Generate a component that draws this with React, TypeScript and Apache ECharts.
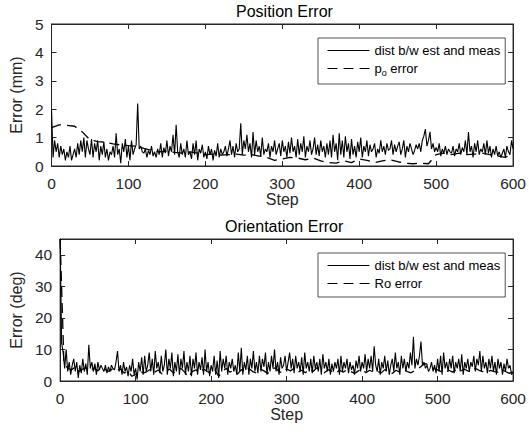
import React, { useEffect, useRef } from "react";
import * as echarts from "echarts";

// ---------- data ----------
const STEP_MIN = 0;
const STEP_MAX = 600;
const STEP_INTERVAL = 100;
const DIST_STEP = 2; // sampling of the "dist b/w est and meas" series
const POS_ERR_STEP = 10; // sampling of p_o error
const ORI_ERR_STEP = 5; // sampling of Ro error

const titles = ["Position Error", "Orientation Error"];
const yNames = ["Error (mm)", "Error (deg)"];
const yMax = [5, 45];
const yInterval = [1, 10];
const legendNames = ["dist b/w est and meas", "p_o error", "Ro error"];

// Position: distance between estimate and measurement (mm), every 2 steps
const positionDist = [
  2.0, 0.3, 0.9, 0.5, 0.8, 0.3, 0.7, 0.4, 0.6, 0.2,
  0.5, 0.3, 0.7, 0.2, 0.4, 0.6, 0.3, 0.8, 0.4, 0.9,
  0.5, 1.0, 0.3, 0.9, 0.6, 0.4, 0.95, 0.3, 0.8, 0.5,
  0.9, 0.2, 0.7, 0.4, 0.85, 0.3, 0.6, 0.2, 0.5, 0.4,
  0.7, 0.3, 1.15, 0.4, 0.6, 0.1, 0.8, 0.5, 0.95, 0.3,
  0.7, 0.2, 0.9, 0.4, 0.6, 0.75, 2.2, 0.6, 0.7, 0.5,
  0.45, 0.6, 0.3, 0.55, 0.4, 0.7, 0.35, 0.5, 0.3, 0.6,
  0.4, 0.8, 0.3, 0.65, 0.45, 0.9, 0.35, 0.7, 0.5, 1.1,
  0.4, 1.45, 0.5, 0.3, 0.8, 0.4, 0.6, 0.3, 0.9, 0.4,
  0.5, 0.25, 0.8, 0.4, 0.9, 0.2, 0.6, 0.45, 0.75, 0.3,
  0.5, 0.25, 0.7, 0.4, 0.6, 0.2, 0.55, 0.35, 0.8, 0.3,
  0.6, 0.4, 0.5, 0.7, 0.35, 0.6, 0.9, 0.4, 0.7, 0.3,
  0.8, 0.5, 0.6, 1.5, 0.4, 0.9, 0.6, 1.1, 0.5, 0.8,
  0.3, 1.2, 0.4, 0.9, 0.5, 0.7, 0.35, 1.0, 0.4, 0.6,
  0.5, 0.8, 0.3, 0.7, 0.5, 0.9, 0.4, 0.6, 0.8, 0.35,
  0.9, 0.5, 0.7, 0.3, 0.85, 0.45, 1.0, 0.5, 0.7, 0.3,
  0.95, 0.4, 0.8, 0.5, 1.05, 0.3, 0.7, 0.5, 0.9, 0.4,
  0.6, 1.0, 0.4, 0.75, 0.35, 0.9, 0.5, 0.7, 0.3, 0.8,
  0.4, 0.9, 0.3, 1.1, 0.5, 0.8, 0.2, 1.15, 0.4, 0.9,
  0.3, 1.05, 0.5, 0.8, 0.25, 0.95, 0.4, 0.7, 0.3, 0.85,
  0.5, 1.0, 0.3, 0.7, 0.5, 0.9, 0.35, 0.75, 0.5, 0.6,
  0.8, 0.3, 0.6, 0.45, 0.9, 0.5, 0.7, 0.4, 0.8, 0.55,
  0.6, 0.9, 0.4, 0.75, 0.5, 0.7, 0.85, 0.4, 0.6, 0.9,
  0.3, 0.7, 0.5, 0.8, 0.6, 0.4, 0.55, 0.75, 0.6, 0.8,
  0.5, 0.9, 1.05, 1.3, 0.7, 0.9, 1.2, 0.6, 0.8, 0.5,
  0.65, 0.5, 0.8, 0.35, 0.6, 0.45, 0.7, 0.4, 0.6, 0.5,
  0.45, 0.7, 0.35, 0.6, 0.5, 0.8, 0.4, 0.65, 0.5, 0.9,
  0.4, 1.2, 0.5, 0.7, 0.3, 0.8, 0.5, 0.9, 0.4, 0.6,
  0.5, 0.8, 0.4, 0.9, 0.45, 0.7, 0.3, 0.6, 0.4, 0.7,
  0.35, 0.5, 0.3, 0.45, 0.6, 0.3, 0.7, 0.5, 0.4, 0.9,
  0.6,
];

// Position: p_o error (mm), every 10 steps
const positionErr = [
  1.35, 1.45, 1.43, 1.4, 1.2, 0.92, 0.86, 0.84, 0.78, 0.74,
  0.72, 0.7, 0.62, 0.55, 0.5, 0.52, 0.48, 0.45, 0.5, 0.45,
  0.4, 0.42, 0.38, 0.4, 0.42, 0.38, 0.4, 0.35, 0.3, 0.2,
  0.25, 0.3, 0.28, 0.22, 0.28, 0.18, 0.12, 0.1, 0.18, 0.12,
  0.25, 0.2, 0.12, 0.18, 0.22, 0.15, 0.1, 0.08, 0.1, 0.08,
  0.4, 0.45, 0.4, 0.45, 0.4, 0.42, 0.45, 0.4, 0.35, 0.3,
  0.45,
];

// Orientation: distance between estimate and measurement (deg), every 2 steps
const orientationDist = [
  45, 12, 9, 4, 10, 3, 6, 2, 5, 7,
  3, 6, 1, 5, 2.5, 7, 3, 5.5, 2, 11.5,
  4, 6, 3, 5.5, 2, 6, 3.5, 5, 4, 3,
  5, 2.5, 4.5, 3, 5, 4, 3.5, 6, 9.5, 3,
  5, 2, 6, 3, 4.5, 1.5, 5, 3, 7, 2,
  4, 0.5, 6, 3, 7.5, 2, 8, 3, 5, 9,
  3, 7, 2, 9.5, 4, 6, 2.5, 8, 3, 5,
  10, 2, 7, 4, 9, 1.5, 6, 3, 8.5, 2,
  7, 4, 9.5, 2, 6, 3, 8, 1.5, 7, 4,
  9, 2, 6, 3.5, 7.5, 2, 10, 3, 6, 1.5,
  5, 3, 8, 2, 6.5, 1, 9.5, 3, 7, 4,
  8, 2, 6, 4, 7, 3, 5, 2, 9, 3,
  10.5, 2, 6, 3.5, 8, 2, 7, 4, 9.5, 3,
  6, 2.5, 8, 3, 7, 4.5, 9, 2, 6, 3,
  8, 4, 10, 3, 6, 2, 7.5, 4, 5, 8,
  3, 6, 9, 4, 7, 2.5, 8, 4, 6, 3,
  7.5, 2, 9, 4, 6, 3, 7, 2.5, 8, 4,
  6, 3, 7, 2, 8.5, 4, 6, 3, 7, 2,
  5.5, 3, 6, 4, 7, 2, 8, 3, 6, 4,
  7, 2.5, 6, 3.5, 5, 2, 6.5, 4, 8, 3,
  6, 4, 8.5, 3, 7, 4, 8, 3, 11, 5,
  3, 7, 2, 6, 4, 8, 3, 6.5, 2, 5,
  7, 3, 9, 4, 6, 2, 8, 4, 7, 3,
  6, 4, 9, 5, 14, 4, 7, 5, 8, 12.5,
  5, 6, 4, 5, 3, 4, 6, 3, 5, 2.5,
  7, 3, 8, 2, 9, 4, 6, 3, 7, 4,
  8, 2.5, 6, 4, 7, 3, 8.5, 2, 6, 4,
  7, 3, 6, 4.5, 8, 3, 7, 5, 9.5, 3,
  8, 4, 6, 2.5, 7, 4, 8, 3, 6, 2,
  7, 4, 6, 2, 5.5, 3, 7, 4, 5, 2,
  3,
];

// Orientation: Ro error (deg), every 5 steps
const orientationErr = [
  45, 6, 4, 3.5, 4.5, 3, 3.8, 4.2, 3.5, 4,
  3.2, 4.5, 3.6, 3, 4, 3.4, 3.8, 2.5, 3.2, 1.5,
  2, 3.5, 2.5, 3, 3.8, 2.8, 3.5, 2.2, 3, 3.8,
  2.5, 3.2, 4, 2.8, 1.2, 3, 3.5, 2.6, 3.8, 3,
  2.4, 3.6, 1.5, 3, 4, 2.8, 3.4, 2.2, 3.6, 2.8,
  4, 3, 2.5, 3.8, 3.2, 2.4, 3.6, 4.2, 3, 2.5,
  3.8, 3.2, 4, 2.8, 3.4, 2.6, 3.8, 3, 4.2, 3.2,
  2.6, 3.6, 3, 2.4, 3.4, 2.8, 3.6, 3, 2.4, 3.2,
  3.8, 2.6, 3.4, 2.8, 3.2, 2.5, 3.6, 3, 2.4, 3.4,
  2.8, 3.6, 3, 2.6, 3.4, 4, 5, 5.5, 4.5, 4,
  3.5, 3, 2.6, 3.4, 2.8, 3.6, 3, 3.8, 3.2, 2.8,
  4, 3.4, 3, 2.6, 3.4, 3, 2.8, 3.6, 3, 2.4,
  3,
];

// ---------- styling ----------
const FONT = "'Liberation Sans', Arial, Helvetica, sans-serif";
const AXIS = "#262626";
const GRID_LEFT = 51;
const GRID_W = 469;
const GRID_H = 142;
const GRID_TOPS = [24, 239];
const Y_NAME_GAPS = [20, 26];
const TICK_FONT = 15.5;
const NAME_FONT = 16;

const toPairs = (vals: number[], step: number) => vals.map((v, i) => [i * step, v]);

function buildOption() {
  const grid = GRID_TOPS.map((top) => ({
    left: GRID_LEFT,
    top,
    width: GRID_W,
    height: GRID_H,
    show: true,
    borderColor: AXIS,
    borderWidth: 1,
  }));

  const line = { show: true, onZero: false, lineStyle: { color: AXIS, width: 1 } };
  const tick = { show: true, inside: true, length: 5, lineStyle: { color: AXIS, width: 1 } };

  const xAxis: any[] = [];
  const yAxis: any[] = [];
  [0, 1].forEach((gi) => {
    xAxis.push({
      type: "value",
      gridIndex: gi,
      min: STEP_MIN,
      max: STEP_MAX,
      interval: STEP_INTERVAL,
      position: "bottom",
      name: "Step",
      nameLocation: "middle",
      nameGap: 24,
      nameTextStyle: { fontFamily: FONT, fontSize: NAME_FONT, color: AXIS },
      axisLine: line,
      axisTick: tick,
      axisLabel: { fontFamily: FONT, fontSize: TICK_FONT, color: AXIS, margin: 9 },
      splitLine: { show: false },
    });
    xAxis.push({
      type: "value",
      gridIndex: gi,
      min: STEP_MIN,
      max: STEP_MAX,
      interval: STEP_INTERVAL,
      position: "top",
      axisLine: line,
      axisTick: tick,
      axisLabel: { show: false },
      splitLine: { show: false },
    });
    yAxis.push({
      type: "value",
      gridIndex: gi,
      min: 0,
      max: yMax[gi],
      interval: yInterval[gi],
      position: "left",
      name: yNames[gi],
      nameLocation: "middle",
      nameGap: Y_NAME_GAPS[gi],
      nameTextStyle: { fontFamily: FONT, fontSize: NAME_FONT, color: AXIS },
      axisLine: line,
      axisTick: tick,
      axisLabel: {
        fontFamily: FONT,
        fontSize: TICK_FONT,
        color: AXIS,
        margin: 8,
        showMaxLabel: gi === 0,
      },
      splitLine: { show: false },
    });
    yAxis.push({
      type: "value",
      gridIndex: gi,
      min: 0,
      max: yMax[gi],
      interval: yInterval[gi],
      position: "right",
      axisLine: line,
      axisTick: tick,
      axisLabel: { show: false },
      splitLine: { show: false },
    });
  });

  const solid = { color: "#000", width: 1.1 };
  const dashed = { color: "#000", width: 1.3, type: [10, 6] as any };

  const series: any[] = [
    {
      name: legendNames[1],
      type: "line",
      xAxisIndex: 0,
      yAxisIndex: 0,
      symbol: "none",
      lineStyle: dashed,
      itemStyle: { color: "#000" },
      data: toPairs(positionErr, POS_ERR_STEP),
    },
    {
      name: legendNames[0],
      type: "line",
      xAxisIndex: 0,
      yAxisIndex: 0,
      symbol: "none",
      lineStyle: solid,
      itemStyle: { color: "#000" },
      data: toPairs(positionDist, DIST_STEP),
    },
    {
      name: legendNames[2],
      type: "line",
      xAxisIndex: 2,
      yAxisIndex: 2,
      symbol: "none",
      lineStyle: dashed,
      itemStyle: { color: "#000" },
      data: toPairs(orientationErr, ORI_ERR_STEP),
    },
    {
      name: legendNames[0],
      type: "line",
      xAxisIndex: 2,
      yAxisIndex: 2,
      symbol: "none",
      lineStyle: solid,
      itemStyle: { color: "#000" },
      data: toPairs(orientationDist, DIST_STEP),
    },
  ];

  const legendBase = {
    orient: "vertical",
    left: 318,
    itemWidth: 42,
    itemHeight: 14,
    itemGap: 5,
    padding: [6, 5, 7, 9],
    borderColor: AXIS,
    borderWidth: 0.8,
    borderRadius: 0,
    backgroundColor: "#fff",
    selectedMode: false,
    itemStyle: { color: "rgba(0,0,0,0)", borderWidth: 0, opacity: 0 },
    lineStyle: { color: "#000", width: 1 },
    textStyle: {
      fontFamily: FONT,
      fontSize: 13,
      color: "#000",
      rich: {
        t: { fontFamily: FONT, fontSize: 13, color: "#000" },
        s: { fontFamily: FONT, fontSize: 9, color: "#000", padding: [8, 0, 0, 0] },
      },
    },
    formatter: (name: string) => (name === "p_o error" ? "{t|p}{s|o}{t| error}" : name),
  };

  const legend = [
    { ...legendBase, top: 38, data: [legendNames[0], legendNames[1]] },
    { ...legendBase, top: 253, data: [legendNames[0], legendNames[2]] },
  ];

  const title = [
    {
      text: titles[0],
      left: 236,
      top: 3,
      padding: 0,
      textStyle: { fontFamily: FONT, fontSize: 16, fontWeight: "normal", color: "#000" },
    },
    {
      text: titles[1],
      left: 225,
      top: 218,
      padding: 0,
      textStyle: { fontFamily: FONT, fontSize: 16, fontWeight: "normal", color: "#000" },
    },
  ];

  return {
    animation: false,
    backgroundColor: "#fff",
    title,
    legend,
    grid,
    xAxis,
    yAxis,
    series,
  };
}

export default function App() {
  const ref = useRef<HTMLDivElement>(null);
  useEffect(() => {
    if (!ref.current) return;
    const chart = echarts.init(ref.current, null, { renderer: "svg" });
    chart.setOption(buildOption() as any);
    return () => chart.dispose();
  }, []);
  return (
    <div
      ref={ref}
      style={{ position: "absolute", left: 0, top: 0, width: 529, height: 432, background: "#fff" }}
    />
  );
}
